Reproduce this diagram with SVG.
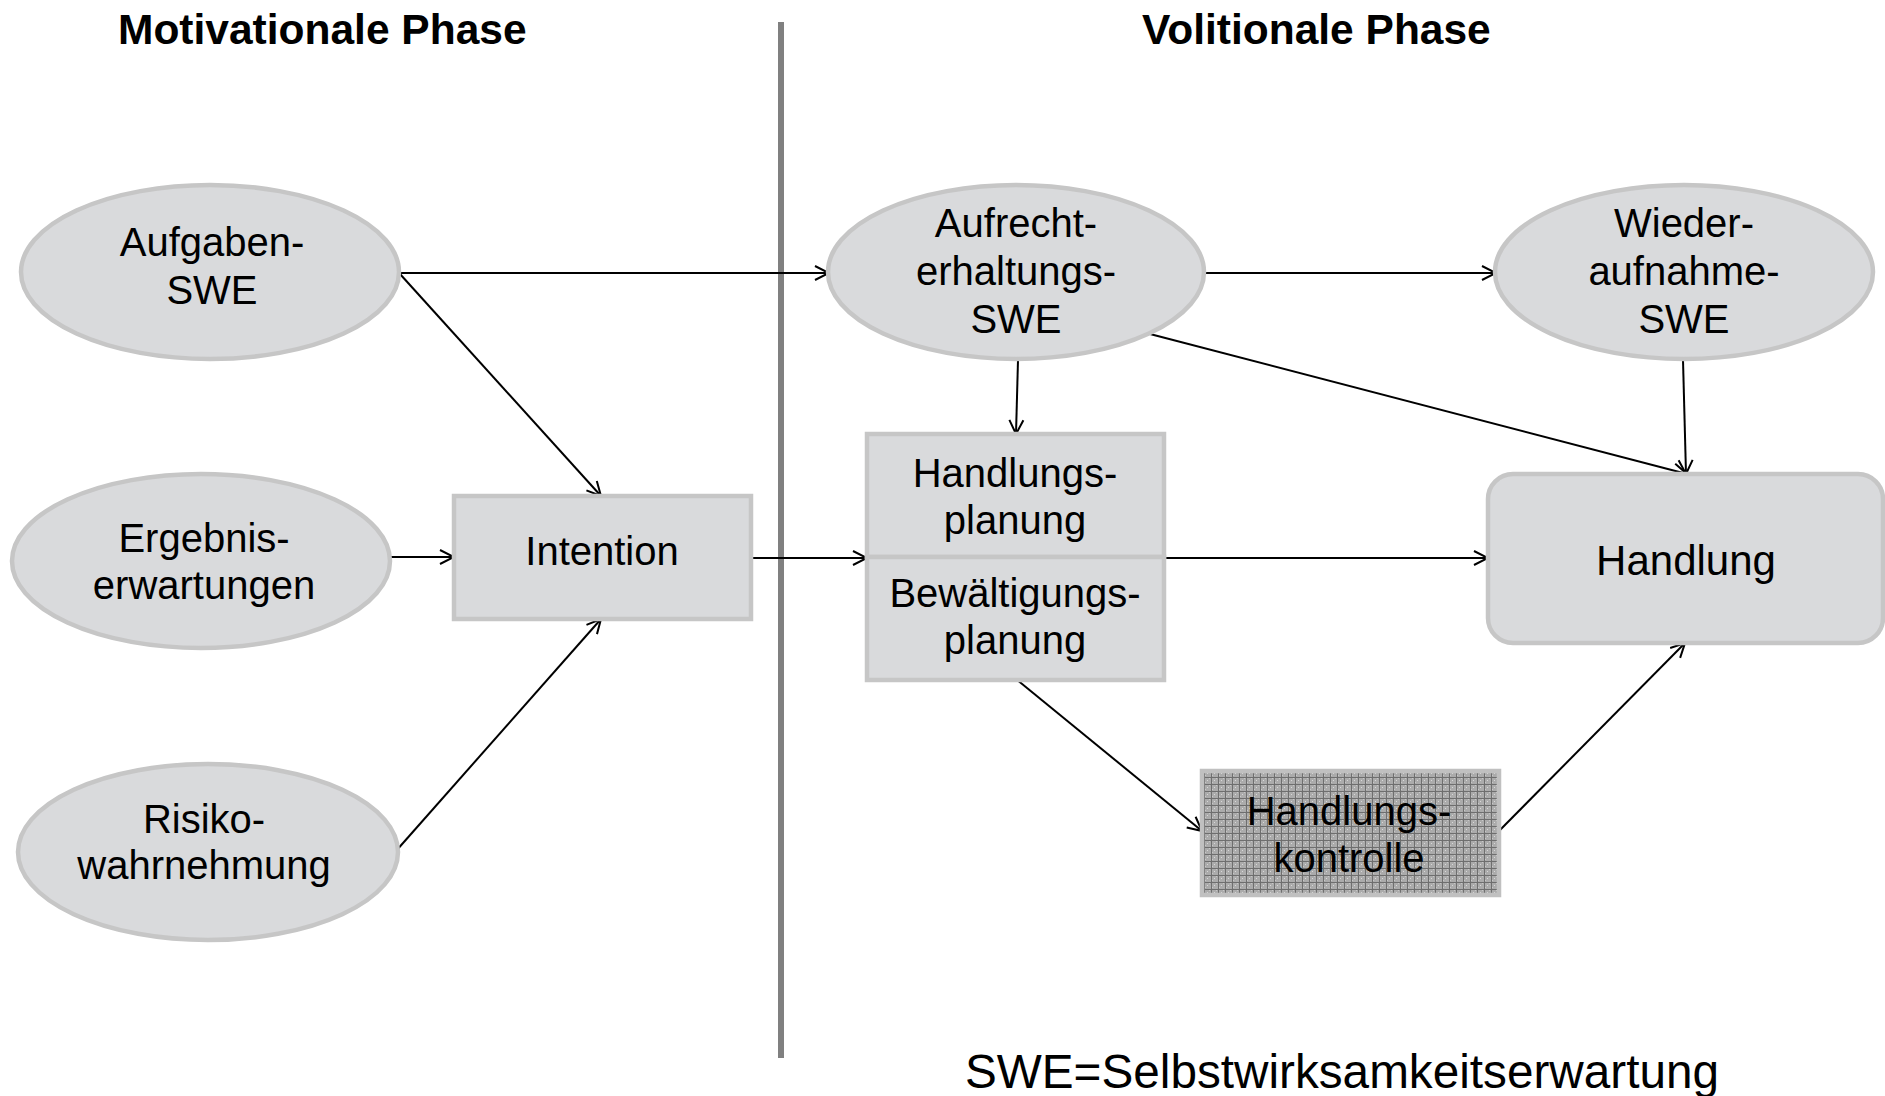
<svg xmlns="http://www.w3.org/2000/svg" width="1885" height="1096" viewBox="0 0 1885 1096">
<style>
.node{fill:#d9dadc;stroke:#c6c6c6;stroke-width:4.5}
.t{font-family:"Liberation Sans",Arial,sans-serif;font-size:40px;fill:#000;text-anchor:middle}
.title{font-family:"Liberation Sans",Arial,sans-serif;font-size:42.5px;font-weight:bold;fill:#000}
.c{stroke:#000;stroke-width:2;fill:none;marker-end:url(#arr)}
</style>
<defs>
<marker id="arr" markerUnits="userSpaceOnUse" markerWidth="18" markerHeight="18" refX="16" refY="9" orient="auto">
<path d="M2,2 L16,9 L2,16" fill="none" stroke="#000" stroke-width="2"/>
</marker>
<pattern id="grid" patternUnits="userSpaceOnUse" width="7" height="7">
<rect width="7" height="7" fill="#ababab"/>
<rect x="3" y="3" width="1" height="1" fill="#d8d8d8"/>
<rect x="1" y="5" width="1" height="1" fill="#c8c8c8"/>
<rect x="5" y="1" width="1" height="1" fill="#c8c8c8"/>
<path d="M0,0.5 H7 M0.5,0 V7" stroke="#6e6e6e" stroke-width="1"/>
</pattern>
</defs>
<rect width="1885" height="1096" fill="#fff"/>
<text class="title" x="118" y="44">Motivationale Phase</text>
<text class="title" x="1142" y="44">Volitionale Phase</text>
<rect id="divider" x="778" y="22" width="6" height="1036" fill="#808080"/>
<g id="connectors">
<line class="c" x1="400" y1="273" x2="829" y2="273"/>
<line class="c" x1="400" y1="274" x2="601" y2="496"/>
<line class="c" x1="391" y1="557" x2="454" y2="557"/>
<line class="c" x1="396" y1="851" x2="601" y2="619"/>
<line class="c" x1="751" y1="558" x2="867" y2="558"/>
<line class="c" x1="1018" y1="360" x2="1016" y2="434"/>
<line class="c" x1="1205" y1="273" x2="1496" y2="273"/>
<line class="c" x1="1150" y1="334" x2="1687" y2="474"/>
<line class="c" x1="1683" y1="360" x2="1686" y2="474"/>
<line class="c" x1="1164" y1="558" x2="1488" y2="558"/>
<line class="c" x1="1016" y1="679" x2="1202" y2="831"/>
<line class="c" x1="1499" y1="831" x2="1685" y2="643"/>
</g>
<g id="aufgaben">
<ellipse class="node" cx="210" cy="272" rx="189" ry="87"/>
<text class="t" x="212" y="256">Aufgaben-</text>
<text class="t" x="212" y="304">SWE</text>
</g>
<g id="ergebnis">
<ellipse class="node" cx="201" cy="561" rx="189" ry="87"/>
<text class="t" x="204" y="552">Ergebnis-</text>
<text class="t" x="204" y="599">erwartungen</text>
</g>
<g id="risiko">
<ellipse class="node" cx="208" cy="852" rx="190" ry="88"/>
<text class="t" x="204" y="833">Risiko-</text>
<text class="t" x="204" y="879">wahrnehmung</text>
</g>
<g id="intention">
<rect class="node" x="454" y="496" width="297" height="123"/>
<text class="t" x="602" y="565">Intention</text>
</g>
<g id="aufrecht">
<ellipse class="node" cx="1016" cy="272" rx="188" ry="87"/>
<text class="t" x="1016" y="237">Aufrecht-</text>
<text class="t" x="1016" y="285">erhaltungs-</text>
<text class="t" x="1016" y="333">SWE</text>
</g>
<g id="wieder">
<ellipse class="node" cx="1684" cy="272" rx="189" ry="87"/>
<text class="t" x="1684" y="237">Wieder-</text>
<text class="t" x="1684" y="285">aufnahme-</text>
<text class="t" x="1684" y="333">SWE</text>
</g>
<g id="handlungsplanung">
<rect class="node" x="867" y="434" width="297" height="123"/>
<text class="t" x="1015" y="487">Handlungs-</text>
<text class="t" x="1015" y="534">planung</text>
</g>
<g id="bewaeltigungsplanung">
<rect class="node" x="867" y="557" width="297" height="123"/>
<text class="t" x="1015" y="607">Bewältigungs-</text>
<text class="t" x="1015" y="654">planung</text>
</g>
<g id="handlung">
<rect class="node" x="1488" y="474" width="395" height="169" rx="25" ry="25"/>
<text class="t" x="1686" y="575" style="font-size:42px">Handlung</text>
</g>
<g id="handlungskontrolle">
<rect x="1202" y="771" width="297" height="124" fill="url(#grid)" stroke="#c0c0c0" stroke-width="4.5"/>
<text class="t" x="1349" y="825">Handlungs-</text>
<text class="t" x="1349" y="872">kontrolle</text>
</g>
<text x="965" y="1088" style="font-family:'Liberation Sans',Arial,sans-serif;font-size:47.7px;fill:#000">SWE=Selbstwirksamkeitserwartung</text>
</svg>
